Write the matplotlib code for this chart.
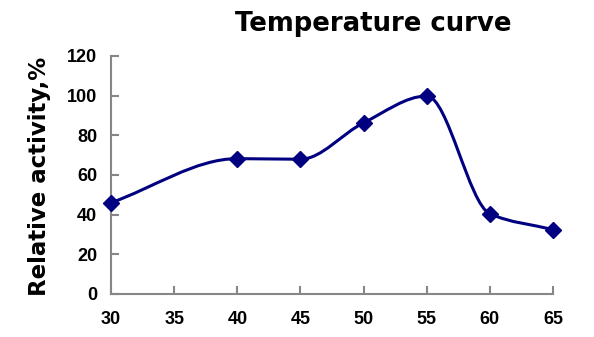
import numpy as np
import matplotlib
matplotlib.use("Agg")
import matplotlib.pyplot as plt
from matplotlib.path import Path
from matplotlib.patches import PathPatch

temperature = [30, 40, 45, 50, 55, 60, 65]
activity = [46.0, 68.2, 67.9, 86.3, 99.8, 40.4, 32.4]
xticks = [30, 35, 40, 45, 50, 55, 60, 65]
yticks = [0, 20, 40, 60, 80, 100, 120]

plt.rcParams['font.family'] = ['Liberation Sans', 'DejaVu Sans']

fig = plt.figure(figsize=(5.94, 3.37), dpi=100)
ax = fig.add_axes([0.187, 0.128, 0.744, 0.706])

# smoothed line: monotone cubic tangents, drawn as Bezier segments
x = np.array(temperature, dtype=float)
y = np.array(activity, dtype=float)
h = np.diff(x)
d = np.diff(y) / h
m = np.zeros_like(y)
m[0], m[-1] = d[0], d[-1]
for k in range(1, len(x) - 1):
    if d[k - 1] * d[k] > 0:
        w1 = 2 * h[k] + h[k - 1]
        w2 = h[k] + 2 * h[k - 1]
        m[k] = (w1 + w2) / (w1 / d[k - 1] + w2 / d[k])
verts = [(x[0], y[0])]
codes = [Path.MOVETO]
for i in range(len(x) - 1):
    verts += [(x[i] + h[i] / 3, y[i] + m[i] * h[i] / 3),
              (x[i + 1] - h[i] / 3, y[i + 1] - m[i + 1] * h[i] / 3),
              (x[i + 1], y[i + 1])]
    codes += [Path.CURVE4] * 3
ax.add_patch(PathPatch(Path(verts, codes), fill=False, edgecolor='#000080', lw=2.2))
ax.plot(temperature, activity, linestyle='none', marker='D', markersize=8,
        color='#000080', clip_on=False, zorder=3)

ax.set_xlim(30, 65)
ax.set_ylim(0, 120)
ax.set_xticks(xticks)
ax.set_yticks(yticks)
for s in ['top', 'right']:
    ax.spines[s].set_visible(False)
for s in ['left', 'bottom']:
    ax.spines[s].set_color('#868686')
    ax.spines[s].set_linewidth(1.5)
ax.tick_params(direction='in', length=6, width=1.5, color='#868686',
               labelsize=13)
ax.tick_params(axis='x', pad=12)
ax.tick_params(axis='y', pad=10)
for lab in ax.get_xticklabels() + ax.get_yticklabels():
    lab.set_fontweight('bold')

fig.text(0.066, 0.478, 'Relative activity,%', fontsize=16.5, fontweight='bold',
         family='DejaVu Sans', rotation=90, ha='center', va='center')
fig.text(0.628, 0.928, 'Temperature curve', fontsize=18.7, fontweight='bold',
         family='DejaVu Sans', ha='center', va='center')

fig.savefig('out.png', dpi=100)
